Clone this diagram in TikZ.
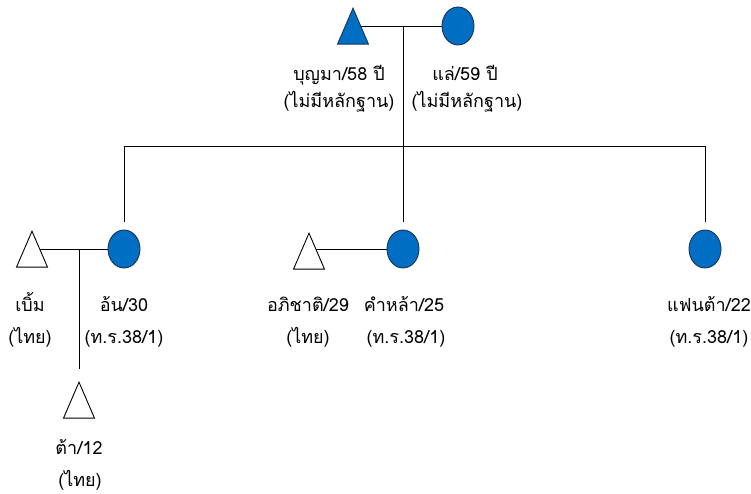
\documentclass[tikz,border=0pt]{standalone}
\usepackage{fontspec}
\newfontfamily\thaifont[Script=Thai]{Loma}
\usetikzlibrary{shapes.geometric,backgrounds}
\definecolor{kinblue}{RGB}{0,110,195}
\definecolor{kinedge}{RGB}{30,50,85}
\tikzset{
  male/.style={draw, fill=white, isosceles triangle, shape border rotate=90,
    isosceles triangle stretches, minimum width=31pt, minimum height=36pt,
    inner sep=0pt, anchor=apex},
  female/.style={draw=kinedge, fill=kinblue, ellipse, minimum width=32pt,
    minimum height=38pt, inner sep=0pt},
  lbl/.style={font=\thaifont\fontsize{18}{20}\selectfont, anchor=base, inner sep=0pt}
}
\begin{document}
\begin{tikzpicture}[x=1pt,y=-1pt,line width=0.9pt]
  \useasboundingbox (0,0) rectangle (751,494);
  % people
  \node[male,fill=kinblue,draw=kinedge] (bunma) at (353,7) {};
  \node[female] (lae) at (458,26) {};
  \node[male] (berm) at (32,230) {};
  \node[female] (on) at (124,249) {};
  \node[male] (aphi) at (309,232) {};
  \node[female] (kham) at (403,249) {};
  \node[female] (fanta) at (705,249) {};
  \node[male] (ta) at (79,381) {};
  \coordinate (top) at (403,26);
  \coordinate (sibL) at (124,146);
  \coordinate (sibR) at (705,146);
  \coordinate (kid) at (79,249);
  % lines
  \begin{scope}[on background layer]
    \draw (bunma.apex |- lae) -- (lae);
    \draw (berm.apex |- on) -- (on);
    \draw (aphi.apex |- kham) -- (kham);
  \end{scope}
  \draw (sibL) -- (sibR);
  \draw[shorten >=8pt] (top) -- (kham);
  \draw[shorten >=8pt] (sibL) -- (on);
  \draw[shorten >=8pt] (sibR) -- (fanta);
  \draw[shorten >=12pt] (kid) -- (ta);
  % labels
  \node[lbl] (bunma-name) at (339,81) {บุญมา/58 ปี};
  \node[lbl] (bunma-note) at (339,108) {(ไม่มีหลักฐาน)};
  \node[lbl] (lae-name) at (465,81) {แล่/59 ปี};
  \node[lbl] (lae-note) at (467,108) {(ไม่มีหลักฐาน)};
  \node[lbl] (berm-name) at (30,311) {เบิ้ม};
  \node[lbl] (berm-note) at (30,343) {(ไทย)};
  \node[lbl] (on-name) at (124,311) {อ้น/30};
  \node[lbl] (on-note) at (124,343) {(ท.ร.38/1)};
  \node[lbl] (aphi-name) at (308,311) {อภิชาติ/29};
  \node[lbl] (aphi-note) at (308,343) {(ไทย)};
  \node[lbl] (kham-name) at (404,311) {คำหล้า/25};
  \node[lbl] (kham-note) at (406,343) {(ท.ร.38/1)};
  \node[lbl] (fanta-name) at (709,311) {แฟนต้า/22};
  \node[lbl] (fanta-note) at (709,343) {(ท.ร.38/1)};
  \node[lbl] (ta-name) at (79,454) {ต้า/12};
  \node[lbl] (ta-note) at (80,486) {(ไทย)};
\end{tikzpicture}
\end{document}
